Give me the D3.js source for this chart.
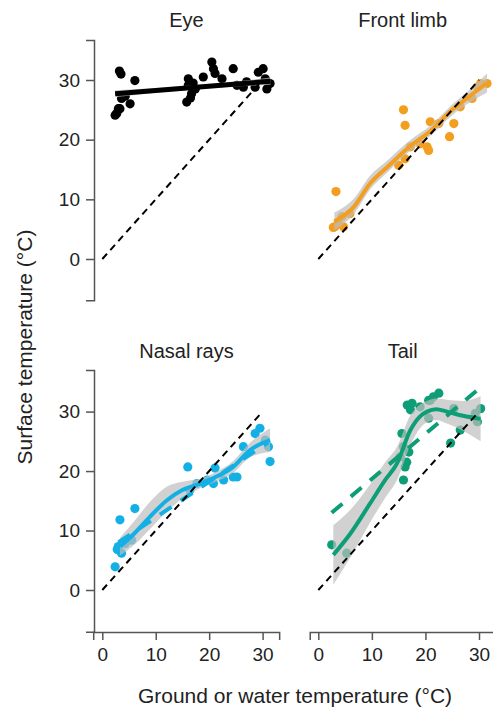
<!DOCTYPE html>
<html>
<head>
<meta charset="utf-8">
<script src="https://cdn.jsdelivr.net/npm/d3@7"></script>
<style>
  body { margin: 0; background: #fff; }
  svg { display: block; font-family: "Liberation Sans", Arial, sans-serif; }
</style>
</head>
<body>
<svg id="chart" width="493" height="708"></svg>
<script>
// Data (surface vs ground/water temperature, °C)
const ticks = [0, 10, 20, 30];

const eyeX = [3.2, 3.5, 6.1, 3.0, 2.4, 5.2, 3.6, 2.7, 3.3, 4.3, 16.1, 16.1, 15.8, 16.7, 17.4, 17.0, 16.5, 18.9, 20.5, 20.8, 21.1, 22.4, 24.5, 25.2, 26.4, 27.0, 28.6, 29.2, 30.1, 30.5, 30.8, 31.4];
const eyeY = [31.5, 31.0, 29.9, 25.2, 24.1, 26.0, 26.9, 24.4, 25.2, 27.3, 30.2, 29.1, 26.3, 27.7, 28.5, 29.5, 27.0, 30.5, 33.0, 31.9, 31.1, 30.2, 31.9, 29.1, 28.8, 29.7, 28.8, 31.3, 31.9, 30.2, 28.5, 29.4];
const eyeFitX = [2.4, 10, 17, 24, 31.5];
const eyeFitY = [27.7, 28.25, 28.75, 29.25, 29.8];
const eyeLo = [27.1, 27.85, 28.4, 28.85, 29.2];
const eyeHi = [28.3, 28.65, 29.1, 29.65, 30.4];

const limbX = [15.9, 16.2, 3.3, 3.1, 3.7, 4.4, 5.9, 4.7, 2.8, 17.2, 16.2, 20.3, 20.6, 20.9, 22.5, 25.3, 24.5, 19.0, 28.7, 29.7, 31.5, 30.3, 26.5, 15.0];
const limbY = [25.0, 22.4, 11.3, 5.4, 6.0, 7.1, 7.6, 5.4, 5.3, 18.8, 16.8, 18.8, 18.2, 23.0, 22.7, 22.7, 20.5, 19.3, 26.9, 28.8, 29.4, 29.4, 25.5, 15.7];
const limbFitX = [3, 6.6, 9.7, 13, 17, 21, 25, 28.4, 31.5];
const limbFitY = [6.3, 8.7, 12.7, 15.5, 18.8, 21.5, 25.0, 27.4, 29.5];
const limbLo = [4.8, 7.5, 11.7, 14.6, 18.0, 20.7, 24.1, 26.3, 27.9];
const limbHi = [7.8, 10.1, 14.0, 16.6, 19.8, 22.4, 25.9, 28.5, 31.1];

const nasalX = [2.4, 3.3, 6.1, 3.0, 3.6, 5.5, 4.3, 2.8, 16.0, 16.4, 17.7, 19.6, 20.8, 21.1, 22.7, 24.5, 25.2, 26.4, 28.6, 29.5, 30.5, 31.1, 31.4];
const nasalY = [3.9, 11.8, 13.7, 7.3, 6.2, 8.4, 7.8, 6.8, 20.7, 16.8, 17.9, 18.5, 17.9, 20.5, 18.5, 19.0, 19.0, 24.1, 26.3, 27.2, 25.2, 24.1, 21.6];
const nasalFitX = [3.3, 6, 8.9, 12.1, 15, 18.3, 21, 24.5, 27.6, 31.4];
const nasalFitY = [7.3, 9.5, 12.3, 15.1, 16.8, 17.9, 18.9, 20.7, 23.5, 25.2];
const nasalLo = [5.8, 7.6, 10.2, 13.2, 15.4, 17.1, 18.1, 19.7, 22.3, 23.2];
const nasalHi = [8.8, 11.6, 14.8, 17.4, 18.2, 18.7, 19.7, 21.7, 24.7, 27.2];
const nasalLinX = [3, 31];
const nasalLinY = [8.0, 24.8];

const tailX = [2.5, 5.3, 15.9, 16.2, 15.6, 15.9, 16.9, 15.3, 16.5, 16.6, 17.2, 17.5, 19.0, 20.6, 20.9, 21.5, 22.5, 20.6, 25.3, 26.5, 24.7, 29.3, 30.3, 29.7];
const tailY = [7.6, 6.2, 18.5, 20.7, 26.3, 24.1, 23.2, 22.4, 21.5, 31.1, 30.3, 31.4, 30.8, 31.9, 31.9, 32.5, 33.1, 28.9, 30.5, 26.9, 24.7, 29.7, 30.5, 28.3];
const tailFitX = [2.8, 6, 9.7, 12.5, 14.7, 17.2, 19, 20.3, 22, 24, 27, 30.3];
const tailFitY = [5.9, 9.5, 14.6, 18.5, 21.3, 26.9, 29.2, 30.0, 30.4, 30.0, 29.3, 28.8];
const tailLo = [0.9, 5.5, 11.4, 15.5, 18.5, 24.4, 27.2, 28.2, 28.6, 28.0, 26.8, 25.0];
const tailHi = [10.9, 13.5, 17.8, 21.5, 24.1, 29.4, 31.2, 31.8, 32.2, 32.0, 31.8, 32.6];
const tailLinX = [2.5, 30.2];
const tailLinY = [13.0, 34.0];

// Layout
const svg = d3.select("#chart");
const xLeft = d3.scaleLinear().domain([0, 30]).range([102.3, 262.6]);
const xRight = d3.scaleLinear().domain([0, 30]).range([318.3, 479]);
const yTop = d3.scaleLinear().domain([0, 30]).range([259, 80]);
const yBottom = d3.scaleLinear().domain([0, 30]).range([590, 411.6]);

const panels = [
    { title: "Eye", color: "#000000", x: xLeft, y: yTop,
      px: eyeX, py: eyeY, fx: eyeFitX, fy: eyeFitY, lo: eyeLo, hi: eyeHi, curve: d3.curveLinear },
    { title: "Front limb", color: "#F39E1E", x: xRight, y: yTop,
      px: limbX, py: limbY, fx: limbFitX, fy: limbFitY, lo: limbLo, hi: limbHi },
    { title: "Nasal rays", color: "#13B0E6", x: xLeft, y: yBottom,
      px: nasalX, py: nasalY, fx: nasalFitX, fy: nasalFitY, lo: nasalLo, hi: nasalHi,
      lx: nasalLinX, ly: nasalLinY },
    { title: "Tail", color: "#0E9E77", x: xRight, y: yBottom,
      px: tailX, py: tailY, fx: tailFitX, fy: tailFitY, lo: tailLo, hi: tailHi,
      lx: tailLinX, ly: tailLinY }
];

panels.forEach(p => {
    const g = svg.append("g");
    const pts = p.px.map((v, i) => [v, p.py[i]]);
    const fit = p.fx.map((v, i) => ({ x: v, y: p.fy[i], lo: p.lo[i], hi: p.hi[i] }));
    const curve = p.curve || d3.curveMonotoneX;

    g.selectAll("circle")
        .data(pts)
        .enter()
        .append("circle")
        .attr("cx", d => p.x(d[0]))
        .attr("cy", d => p.y(d[1]))
        .attr("r", 4.6)
        .attr("fill", p.color);

    g.append("path")
        .datum(fit)
        .attr("d", d3.area().curve(curve)
            .x(d => p.x(d.x)).y0(d => p.y(d.lo)).y1(d => p.y(d.hi)))
        .attr("fill", "#bdbdbd")
        .attr("opacity", 0.7);

    if (p.lx) {
        g.append("path")
            .datum(p.lx.map((v, i) => [v, p.ly[i]]))
            .attr("d", d3.line().x(d => p.x(d[0])).y(d => p.y(d[1])))
            .attr("fill", "none")
            .attr("stroke", p.color)
            .attr("stroke-width", 4)
            .attr("stroke-dasharray", "14 11");
    }

    g.append("path")
        .datum(fit)
        .attr("d", d3.line().curve(curve).x(d => p.x(d.x)).y(d => p.y(d.y)))
        .attr("fill", "none")
        .attr("stroke", p.color)
        .attr("stroke-width", p.title === "Eye" ? 5 : 4);

    // 1:1 reference line
    g.append("path")
        .datum([[0, 0], [30, 30]])
        .attr("d", d3.line().x(d => p.x(d[0])).y(d => p.y(d[1])))
        .attr("stroke", "#000")
        .attr("stroke-width", 2)
        .attr("stroke-dasharray", "7 5");

    g.append("text")
        .attr("x", (p.x.range()[0] + p.x.range()[1]) / 2 + 4)
        .attr("y", p.y === yTop ? 27 : 358)
        .attr("text-anchor", "middle")
        .attr("font-size", 20)
        .attr("fill", "#222")
        .text(p.title);
});

// Axes
function styleAxis(sel) {
    sel.select(".domain").attr("stroke", "#555").attr("stroke-width", 1.5);
    sel.selectAll(".tick line").attr("stroke", "#555").attr("stroke-width", 1.5);
    sel.selectAll(".tick text").attr("fill", "#222").attr("font-size", 19)
        .attr("font-family", "Liberation Sans, Arial, sans-serif");
}

function ext(scale, lo, hi) {
    return scale.copy().domain([lo, hi]).range([scale(lo), scale(hi)]);
}

svg.append("g")
    .attr("transform", "translate(94,0)")
    .call(d3.axisLeft(ext(yTop, -6.9, 36.7)).tickValues(ticks).tickSizeOuter(0).tickSize(8).tickPadding(6))
    .call(styleAxis);

svg.append("g")
    .attr("transform", "translate(94,0)")
    .call(d3.axisLeft(ext(yBottom, -7, 37)).tickValues(ticks).tickSizeOuter(0).tickSize(8).tickPadding(6))
    .call(styleAxis);

svg.append("g")
    .attr("transform", "translate(0,632)")
    .call(d3.axisBottom(ext(xLeft, -1.7, 33.1)).tickValues(ticks).tickSizeOuter(0).tickSize(8).tickPadding(8))
    .call(styleAxis);

svg.append("g")
    .attr("transform", "translate(0,632)")
    .call(d3.axisBottom(ext(xRight, -1.6, 34)).tickValues(ticks).tickSizeOuter(0).tickSize(8).tickPadding(8))
    .call(styleAxis);

svg.append("text")
    .attr("x", 295)
    .attr("y", 703)
    .attr("text-anchor", "middle")
    .attr("font-size", 21)
    .attr("fill", "#222")
    .text("Ground or water temperature (°C)");

svg.append("text")
    .attr("transform", "translate(32,347) rotate(-90)")
    .attr("text-anchor", "middle")
    .attr("font-size", 21)
    .attr("fill", "#222")
    .text("Surface temperature (°C)");
</script>
</body>
</html>
